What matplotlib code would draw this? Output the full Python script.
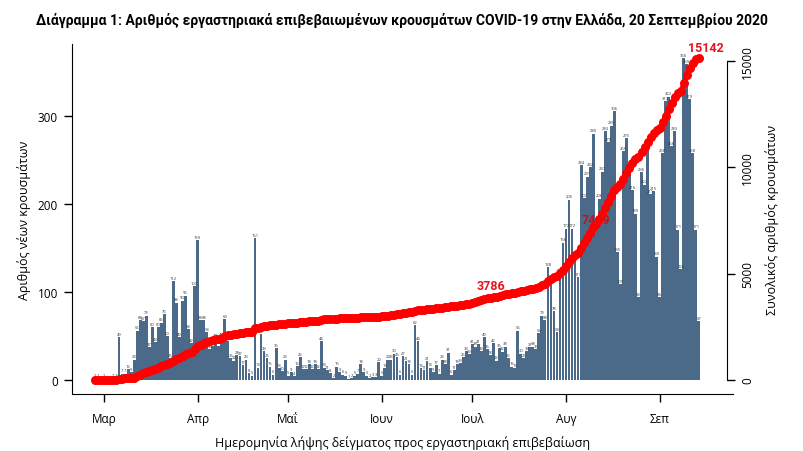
import numpy as np
import pandas as pd
import matplotlib
matplotlib.use("Agg")
import matplotlib.pyplot as plt
import matplotlib.dates as mdates

plt.rcParams['font.family'] = ['Open Sans', 'DejaVu Sans']

# ημερήσια κρούσματα ανά ημερομηνία δείγματος (από 27/2)
start_date = "2020-02-27"
daily_cases = [
    2, 2, 0, 2, 0, 0, 2, 2, 49,
    7, 7, 12, 9, 23, 56, 68, 67, 73, 37, 60, 43, 60, 65, 75, 50, 25, 112, 88, 49,
    90, 96, 58, 42, 107, 159, 68, 68, 54, 35, 39, 47, 39, 49, 69, 44, 25, 22, 28,
    27, 17, 23, 8, 5, 161,
    14, 52, 33, 25, 15, 6, 36, 13, 10, 23, 5, 9, 4, 16, 26, 12, 12, 18, 12, 18, 12, 44,
    14, 11, 8, 2, 15, 9, 6, 5, 1, 2, 5, 7, 18,
    9, 5, 2, 3, 3, 20,
    5, 13, 23, 23, 30, 26, 6, 27, 21, 18, 6, 62,
    44, 13, 11, 21, 14, 9, 17, 7, 23, 18, 31, 6, 11, 18, 19, 26, 33, 29, 41, 38,
    41, 33, 49, 35, 28, 42, 22, 36, 32, 38, 25, 15, 13, 56, 30, 25, 33, 37, 38, 35,
    53, 73, 68, 128, 110, 78, 54, 121, 156, 172, 205, 172, 137, 117, 244, 207, 231,
    242, 280, 172, 206, 237, 283, 270, 289, 306,
    145, 109, 260, 275, 241, 216, 189, 94,
    236, 222, 264, 211, 215, 140, 94, 258, 317, 322, 266, 283, 171, 126, 366, 359,
    319, 258, 171, 67,
]

month_starts = ["2020-03-01", "2020-04-01", "2020-05-01", "2020-06-01",
                "2020-07-01", "2020-08-01", "2020-09-01"]
month_labels = ["Μαρ", "Απρ", "Μαΐ", "Ιουν", "Ιουλ", "Αυγ", "Σεπ"]

# σημεία με ετικέτα στη σωρευτική καμπύλη
milestone_days = [131, 166, 200]
milestone_text = ["3786", "7469", "15142"]

x = mdates.date2num(pd.date_range(start_date, periods=len(daily_cases), freq="D"))
cumulative = np.cumsum(daily_cases)

W, H = 804, 452
fig = plt.figure(figsize=(W / 100, H / 100), dpi=100)
x0, x1, y0, y1 = 72, 733, 45, 395
ax = fig.add_axes([x0 / W, 1 - y1 / H, (x1 - x0) / W, (y1 - y0) / H])

ax.bar(x, daily_cases, width=0.92, color='#4b6a89', zorder=2)
for xi, v in zip(x, daily_cases):
    ax.text(xi, v + 1.5, str(v), ha='center', va='bottom', fontsize=3.0,
            color='#333333', zorder=3)

ax.set_ylim(-16, 382)
ax.set_xlim(x[0] - 7.6, x[0] + 211.3)
for s in ['top', 'right']:
    ax.spines[s].set_visible(False)

ax.set_yticks([0, 100, 200, 300])
ax.set_yticklabels(['0', '100', '200', '300'], fontsize=8.5)
ax.set_xticks(mdates.date2num(pd.to_datetime(month_starts)))
ax.set_xticklabels(month_labels, fontsize=8.5)
ax.tick_params(axis='both', length=6, width=1.0, direction='out', pad=4)
ax.tick_params(axis='x', pad=7)
ax.set_ylabel('Αριθμός νέων κρουσμάτων', fontsize=9, labelpad=5)
ax.set_xlabel('Ημερομηνία λήψης δείγματος προς εργαστηριακή επιβεβαίωση',
              fontsize=9, labelpad=7)

ax2 = ax.twinx()
ax2.plot(x, cumulative, color='#ff0000', lw=3, marker='o', ms=6.5,
         markeredgewidth=0, zorder=4)
ax2.set_ylim(-658, 15797)
for s in ['top', 'left', 'bottom']:
    ax2.spines[s].set_visible(False)
ax2.spines['right'].set_position(('axes', (727 - x0) / (x1 - x0)))
ax2.spines['right'].set_bounds(0, 15000)
ax2.set_yticks([0, 5000, 10000, 15000])
ax2.set_yticklabels(['0', '5000', '10000', '15000'], rotation=90, va='center',
                    fontsize=8.5)
ax2.tick_params(axis='y', length=6, width=1.0, pad=4)
ax2.set_ylabel('Συνολικός αριθμός κρουσμάτων', fontsize=9, labelpad=8)

# ετικέτες σωρευτικών τιμών
m0, m1, m2 = milestone_days
ax2.annotate(milestone_text[0], (x[m0], cumulative[m0]),
             xytext=(0, 4), textcoords='offset points', ha='center', va='bottom',
             color='#e8141e', fontsize=9, fontweight='bold', family='Roboto', zorder=5)
ax.annotate(milestone_text[1], (x[m1], cumulative[m1]),
            xycoords=ax2.transData, xytext=(0, 3), textcoords='offset points',
            ha='center', va='center', color='#c0141e', fontsize=9,
            fontweight='bold', family='Roboto', zorder=5)
ax2.annotate(milestone_text[2], (x[m2], cumulative[m2]),
             xytext=(5, 3), textcoords='offset points', ha='center', va='bottom',
             color='#e8141e', fontsize=9, fontweight='bold', family='Roboto', zorder=5)

fig.text(0.5, 1 - 20 / H,
         'Διάγραμμα 1: Αριθμός εργαστηριακά επιβεβαιωμένων κρουσμάτων COVID-19 '
         'στην Ελλάδα, 20 Σεπτεμβρίου 2020',
         ha='center', va='center', fontsize=10, fontweight='bold',
         family=['Roboto', 'DejaVu Sans'])

fig.savefig('out.png', dpi=100)
